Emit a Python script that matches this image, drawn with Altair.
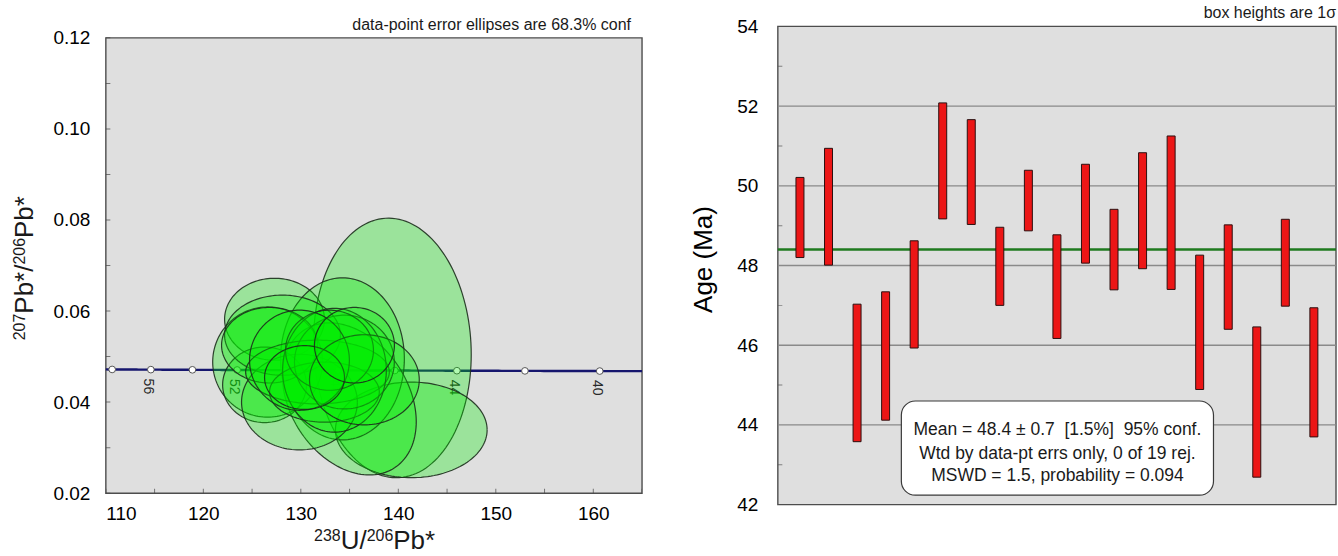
import numpy as np
import pandas as pd
import altair as alt

FONT = "Liberation Sans"
INK = "#1a1a1a"

# ---------------------------------------------------------------------------
# Tera-Wasserburg plot: one 68.3% error ellipse per spot
# centre (238U/206Pb, 207Pb/206Pb), half-extent along each axis, error correlation
spot_u238_pb206 = [139.39, 141.33, 127.30, 134.27, 134.98, 126.59, 126.28, 129.86, 128.12, 126.79,
                   131.71, 132.42, 134.47, 133.45, 132.94, 129.86, 136.52, 130.38, 135.50]
spot_pb207_pb206 = [0.0519, 0.0339, 0.0582, 0.0495, 0.0407, 0.0488, 0.0438, 0.0400, 0.0547, 0.0525,
                    0.0466, 0.0422, 0.0488, 0.0470, 0.0514, 0.0492, 0.0449, 0.0454, 0.0525]
spot_u_half = [8.09, 7.78, 5.12, 6.35, 6.86, 5.63, 4.30, 5.94, 5.94, 4.92,
               7.37, 5.63, 5.12, 5.32, 4.51, 5.12, 5.63, 4.10, 4.10]
spot_pb_half = [0.0285, 0.0105, 0.0090, 0.0178, 0.0167, 0.0121, 0.0083, 0.0105, 0.0088, 0.0083,
                0.0070, 0.0066, 0.0103, 0.0136, 0.0088, 0.0110, 0.0099, 0.0070, 0.0083]
spot_rho = [-0.05, 0.0, 0.0, 0.0, -0.3, 0.0, 0.0, 0.0, 0.0, 0.0,
            0.0, 0.0, 0.0, 0.0, 0.0, 0.0, 0.0, 0.0, 0.0]

# concordia tick ages (Ma) and the ones that carry a label
concordia_tick_ages = [40, 42, 44, 46, 48, 50, 52, 54, 56, 58]
concordia_label_ages = [40, 44, 48, 52, 56]

# ---------------------------------------------------------------------------
# Weighted-mean plot: 1-sigma age boxes (Ma)
spot_age_low = [48.20, 48.01, 43.58, 44.12, 45.93, 49.17, 49.03, 47.00, 48.87, 46.17,
                48.06, 47.39, 47.92, 47.40, 44.89, 46.40, 42.69, 46.98, 43.70]
spot_age_high = [50.21, 50.94, 47.03, 47.34, 48.62, 52.08, 51.66, 48.96, 50.39, 48.77,
                 50.54, 49.41, 50.83, 51.25, 48.26, 49.02, 46.46, 49.16, 46.94]
mean_age = 48.4
grid_ages = [44, 46, 48, 50, 52]
NB = "\u00a0"
summary_lines = [f"Mean = 48.4 \u00b1 0.7{NB}{NB}[1.5%]{NB}{NB}95% conf.",
                 "Wtd by data-pt errs only, 0 of 19 rej.",
                 "MSWD = 1.5, probability = 0.094"]

# ---------------------------------------------------------------------------
# decay constants (per Ma) for the concordia curve
L238 = 1.55125e-4
L235 = 9.8485e-4
U_RATIO = 137.88


def concordia(t):
    t = np.asarray(t, dtype=float)
    e8 = np.expm1(L238 * t)
    e5 = np.expm1(L235 * t)
    return 1.0 / e8, e5 / e8 / U_RATIO


# ellipse geometry: for each x the upper and lower y, plus a closed outline
theta = np.linspace(0.0, np.pi, 73)
area_rows, edge_rows = [], []
for i, (cx, cy, hx, hy, r) in enumerate(zip(spot_u238_pb206, spot_pb207_pb206,
                                            spot_u_half, spot_pb_half, spot_rho)):
    u = np.cos(theta)
    root = np.sqrt(np.clip((1 - r * r) * (1 - u * u), 0, None))
    xs = cx + hx * u
    upper = cy + hy * (r * u + root)
    lower = cy + hy * (r * u - root)
    for xv, lo, hi in zip(xs, lower, upper):
        area_rows.append({"spot": i, "x": xv, "lo": lo, "hi": hi})
    k = 0
    for xv, yv in zip(xs, upper):
        edge_rows.append({"spot": i, "k": k, "x": xv, "y": yv})
        k += 1
    for xv, yv in zip(xs[::-1], lower[::-1]):
        edge_rows.append({"spot": i, "k": k, "x": xv, "y": yv})
        k += 1
area_df = pd.DataFrame(area_rows)
edge_df = pd.DataFrame(edge_rows)

curve_ages = np.linspace(38.9, 58.6, 200)
cx_, cy_ = concordia(curve_ages)
curve_df = pd.DataFrame({"x": cx_, "y": cy_})
tx, ty = concordia(concordia_tick_ages)
tick_df = pd.DataFrame({"x": tx, "y": ty})
lx, ly = concordia(concordia_label_ages)
label_df = pd.DataFrame({"x": lx, "y": ly, "age": [str(a) for a in concordia_label_ages]})

# panel geometry (pixels); the left view carries a blank strip on top so that its
# frame sits lower than the right-hand one
L_W, L_FRAME_H, L_TOP = 537, 456, 11.5
L_H = L_FRAME_H + L_TOP
R_W, R_H = 559, 479

Y_TOP = 0.12 + 0.10 * L_TOP / L_FRAME_H
xs_tw = alt.Scale(domain=[110, 165], nice=False, zero=False)
ys_tw = alt.Scale(domain=[0.02, Y_TOP], nice=False, zero=False)

x_axis_tw = alt.Axis(values=[110, 120, 130, 140, 150, 160], format="d", ticks=False, tickSize=0,
                     domain=False, grid=False, labelFontSize=19, labelPadding=11, title=None)
y_axis_tw = alt.Axis(values=[0.02, 0.04, 0.06, 0.08, 0.10, 0.12], format=".2f", ticks=False,
                     tickSize=0, domain=False, grid=False, labelFontSize=19, labelPadding=16,
                     title=None)

one_row = pd.DataFrame({"t": [0]})
# white strip above the frame
strip_left = alt.Chart(one_row).mark_rect(fill="white", strokeWidth=0).encode(
    x=alt.value(-2), x2=alt.value(L_W + 2), y=alt.value(-2), y2=alt.value(L_TOP - 1))
frame_left = alt.Chart(one_row).mark_rect(
    fill="#dfdfdf", stroke="#4d4d4d", strokeWidth=1.4).encode(
    x=alt.value(0), x2=alt.value(L_W), y=alt.value(L_TOP), y2=alt.value(L_H))

curve = alt.Chart(curve_df).mark_line(color="#16166e", strokeWidth=2.4, clip=True).encode(
    x=alt.X("x:Q", scale=xs_tw, axis=x_axis_tw),
    y=alt.Y("y:Q", scale=ys_tw, axis=y_axis_tw),
)
curve_ticks = alt.Chart(tick_df).mark_point(shape="circle", filled=True, fill="white",
                                            stroke="#555555", strokeWidth=1, size=45,
                                            opacity=1).encode(
    x=alt.X("x:Q", scale=xs_tw), y=alt.Y("y:Q", scale=ys_tw))
curve_labels = alt.Chart(label_df).mark_text(angle=90, align="left", baseline="middle",
                                             dx=9, dy=3, fontSize=14, font=FONT,
                                             color="#2a2a2a").encode(
    x=alt.X("x:Q", scale=xs_tw), y=alt.Y("y:Q", scale=ys_tw), text="age:N")

ellipse_layers = []
for i in range(len(spot_u238_pb206)):
    ellipse_layers.append(
        alt.Chart(area_df).transform_filter(alt.datum.spot == i)
        .mark_area(orient="vertical", color="#00ee00", opacity=0.3)
        .encode(x=alt.X("x:Q", scale=xs_tw), y=alt.Y("lo:Q", scale=ys_tw), y2="hi:Q"))
    ellipse_layers.append(
        alt.Chart(edge_df).transform_filter(alt.datum.spot == i)
        .mark_line(color="#1d2f1d", strokeWidth=1.2, opacity=0.9)
        .encode(x=alt.X("x:Q", scale=xs_tw), y=alt.Y("y:Q", scale=ys_tw), order="k:Q"))

minor_x = alt.Chart(pd.DataFrame({"v": list(range(110, 166, 5))})).mark_tick(
    color="#444444", size=9, thickness=1, clip=True).encode(
    x=alt.X("v:Q", scale=xs_tw), y=alt.value(L_H))
minor_y = alt.Chart(pd.DataFrame({"v": [round(0.02 + 0.01 * k, 2) for k in range(11)]})).mark_tick(
    color="#444444", size=9, thickness=1, clip=True).encode(
    y=alt.Y("v:Q", scale=ys_tw), x=alt.value(0))

note_left = alt.Chart(pd.DataFrame({"t": ["data-point error ellipses are 68.3% conf"]})).mark_text(
    align="right", baseline="middle", fontSize=16, font=FONT, color=INK).encode(
    text="t:N", x=alt.value(526), y=alt.value(-1.8))

# axis titles with raised isotope mass numbers
BIG, SUP, RAISE = 26, 16, 8
x_base_y = 523.0
x_start = 269 - 121 / 2
x_title = []
for t, adv, size, raised in [("238", 0, SUP, True), ("U/", 26.7, BIG, False),
                             ("206", 52.7, SUP, True), ("Pb*", 79.4, BIG, False)]:
    x_title.append(alt.Chart(pd.DataFrame({"t": [t]})).mark_text(
        font=FONT, color=INK, fontSize=size, align="left", baseline="alphabetic").encode(
        text="t:N", x=alt.value(x_start + adv),
        y=alt.value(x_base_y - (RAISE if raised else 0))))

y_anchor_x = -72.7
y_anchor_y = 242.2 + 144.4 / 2
y_title = []
for t, adv, size, raised in [("207", 0, SUP, True), ("Pb*/", 26.7, BIG, False),
                             ("206", 75.8, SUP, True), ("Pb*", 102.5, BIG, False)]:
    y_title.append(alt.Chart(pd.DataFrame({"t": [t]})).mark_text(
        font=FONT, color=INK, fontSize=size, angle=270, align="left", baseline="alphabetic",
        dx=adv, dy=-RAISE if raised else 0).encode(
        text="t:N", x=alt.value(y_anchor_x), y=alt.value(y_anchor_y)))

no_frame = alt.ViewBackground(stroke="transparent", strokeWidth=0, strokeOpacity=0,
                              fill="transparent")

left = alt.layer(strip_left, frame_left, curve, curve_ticks, curve_labels, *ellipse_layers,
                 minor_x, minor_y, note_left, *x_title, *y_title).properties(
    width=L_W, height=L_H, view=no_frame)

# ---------------------------------------------------------------------------
box_df = pd.DataFrame({"spot": list(range(1, len(spot_age_low) + 1)),
                       "low": spot_age_low, "high": spot_age_high})
xs_wm = alt.Scale(domain=[0.4, 19.6], nice=False, zero=False)
ys_wm = alt.Scale(domain=[42, 54], nice=False, zero=False)

y_axis_wm = alt.Axis(values=[42, 44, 46, 48, 50, 52, 54], format="d", ticks=False, tickSize=0,
                     domain=False, grid=False, labelFontSize=19, labelPadding=20,
                     title="Age (Ma)", titleFontSize=26, titleFontWeight="normal",
                     titleAngle=270, titleX=-66, titleY=233, titleAlign="center",
                     titleBaseline="alphabetic")

frame_right = alt.Chart(one_row).mark_rect(
    fill="#dfdfdf", stroke="#4d4d4d", strokeWidth=1.4).encode(
    x=alt.value(0), x2=alt.value(R_W), y=alt.value(0), y2=alt.value(R_H))
grid = alt.Chart(pd.DataFrame({"g": grid_ages})).mark_rule(
    color="#8a8a8a", strokeWidth=1.3).encode(y=alt.Y("g:Q", scale=ys_wm))
mean_line = alt.Chart(pd.DataFrame({"m": [mean_age]})).mark_rule(
    color="#1f7a1f", strokeWidth=2.6).encode(y=alt.Y("m:Q", scale=ys_wm))
boxes = alt.Chart(box_df).mark_bar(size=8, color="#ec1616", stroke="#2a1010",
                                   strokeWidth=1).encode(
    x=alt.X("spot:Q", scale=xs_wm, axis=None),
    y=alt.Y("low:Q", scale=ys_wm, axis=y_axis_wm),
    y2="high:Q")
minor_age = alt.Chart(pd.DataFrame({"v": [43, 45, 47, 49, 51, 53]})).mark_tick(
    color="#555555", size=9, thickness=1, clip=True).encode(
    y=alt.Y("v:Q", scale=ys_wm), x=alt.value(0))

summary_box = alt.Chart(one_row).mark_rect(
    fill="white", stroke="#3a3a3a", strokeWidth=1.2, cornerRadius=14).encode(
    x=alt.value(123.7), x2=alt.value(436.3), y=alt.value(375.2), y2=alt.value(469.5))
summary_text = alt.Chart(pd.DataFrame({"t": summary_lines, "py": [404.5, 427.8, 450.5]})).mark_text(
    align="center", baseline="middle", fontSize=17.5, font=FONT, color=INK).encode(
    text="t:N", x=alt.value(280), y=alt.Y("py:Q", scale=None))

note_right = alt.Chart(pd.DataFrame({"t": ["box heights are 1\u03c3"]})).mark_text(
    align="right", baseline="middle", fontSize=16, font=FONT, color=INK).encode(
    text="t:N", x=alt.value(R_W), y=alt.value(-13.5))

right = alt.layer(frame_right, grid, mean_line, boxes, minor_age, summary_box, summary_text,
                  note_right).properties(width=R_W, height=R_H, view=no_frame)

chart = alt.hconcat(left, right, spacing=47).properties(
    padding={"left": 12, "top": 4, "right": 0, "bottom": 0}
).configure_view(
    fill="transparent", stroke="transparent", strokeWidth=0, strokeOpacity=0
).configure_axis(
    labelFont=FONT, titleFont=FONT, labelColor=INK, titleColor=INK, titleFontWeight="normal"
).configure(background="white")

chart.save("out.html", embed_options={"renderer": "svg", "actions": False})
